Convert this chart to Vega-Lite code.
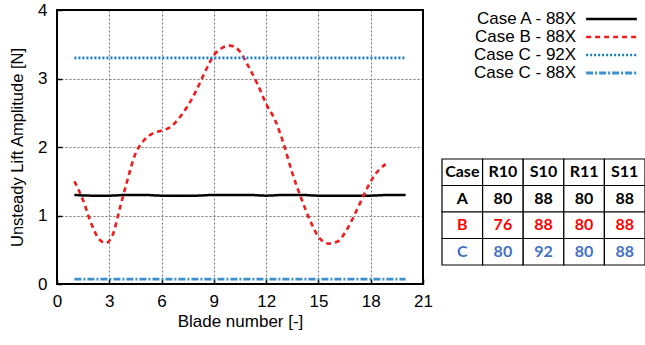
{
  "$schema": "https://vega.github.io/schema/vega-lite/v6.json",
  "padding": {"left": 9, "top": 1, "right": 0, "bottom": 5},
  "background": "white",
  "config": {
    "font": "Liberation Sans",
    "view": {"stroke": null},
    "concat": {"spacing": 8},
    "axis": {"labelFont": "Liberation Sans", "titleFont": "Liberation Sans", "labelFlush": false}
  },
  "resolve": {"scale": {"color": "independent"}},
  "datasets": {
    "series": [
      {"series": "Case A - 88X", "blade": 1, "lift": 1.3},
      {"series": "Case A - 88X", "blade": 2, "lift": 1.29},
      {"series": "Case A - 88X", "blade": 3, "lift": 1.29},
      {"series": "Case A - 88X", "blade": 4, "lift": 1.3},
      {"series": "Case A - 88X", "blade": 5, "lift": 1.3},
      {"series": "Case A - 88X", "blade": 6, "lift": 1.29},
      {"series": "Case A - 88X", "blade": 7, "lift": 1.29},
      {"series": "Case A - 88X", "blade": 8, "lift": 1.29},
      {"series": "Case A - 88X", "blade": 9, "lift": 1.3},
      {"series": "Case A - 88X", "blade": 10, "lift": 1.3},
      {"series": "Case A - 88X", "blade": 11, "lift": 1.3},
      {"series": "Case A - 88X", "blade": 12, "lift": 1.29},
      {"series": "Case A - 88X", "blade": 13, "lift": 1.3},
      {"series": "Case A - 88X", "blade": 14, "lift": 1.3},
      {"series": "Case A - 88X", "blade": 15, "lift": 1.29},
      {"series": "Case A - 88X", "blade": 16, "lift": 1.29},
      {"series": "Case A - 88X", "blade": 17, "lift": 1.29},
      {"series": "Case A - 88X", "blade": 18, "lift": 1.29},
      {"series": "Case A - 88X", "blade": 19, "lift": 1.3},
      {"series": "Case A - 88X", "blade": 20, "lift": 1.3},
      {"series": "Case B - 88X", "blade": 1, "lift": 1.5},
      {"series": "Case B - 88X", "blade": 1.5, "lift": 1.22},
      {"series": "Case B - 88X", "blade": 2, "lift": 0.86},
      {"series": "Case B - 88X", "blade": 2.4, "lift": 0.66},
      {"series": "Case B - 88X", "blade": 2.8, "lift": 0.6},
      {"series": "Case B - 88X", "blade": 3.2, "lift": 0.72},
      {"series": "Case B - 88X", "blade": 3.6, "lift": 1.1},
      {"series": "Case B - 88X", "blade": 4, "lift": 1.48},
      {"series": "Case B - 88X", "blade": 4.5, "lift": 1.9},
      {"series": "Case B - 88X", "blade": 5, "lift": 2.1},
      {"series": "Case B - 88X", "blade": 5.5, "lift": 2.2},
      {"series": "Case B - 88X", "blade": 6, "lift": 2.24},
      {"series": "Case B - 88X", "blade": 6.5, "lift": 2.29},
      {"series": "Case B - 88X", "blade": 7, "lift": 2.42},
      {"series": "Case B - 88X", "blade": 7.5, "lift": 2.6},
      {"series": "Case B - 88X", "blade": 8, "lift": 2.83},
      {"series": "Case B - 88X", "blade": 8.5, "lift": 3.1},
      {"series": "Case B - 88X", "blade": 9, "lift": 3.34},
      {"series": "Case B - 88X", "blade": 9.5, "lift": 3.45},
      {"series": "Case B - 88X", "blade": 9.9, "lift": 3.48},
      {"series": "Case B - 88X", "blade": 10.4, "lift": 3.42},
      {"series": "Case B - 88X", "blade": 11, "lift": 3.17},
      {"series": "Case B - 88X", "blade": 11.5, "lift": 2.92},
      {"series": "Case B - 88X", "blade": 12, "lift": 2.63},
      {"series": "Case B - 88X", "blade": 12.5, "lift": 2.4},
      {"series": "Case B - 88X", "blade": 13, "lift": 2.05},
      {"series": "Case B - 88X", "blade": 13.5, "lift": 1.62},
      {"series": "Case B - 88X", "blade": 14, "lift": 1.26},
      {"series": "Case B - 88X", "blade": 14.5, "lift": 0.94},
      {"series": "Case B - 88X", "blade": 15, "lift": 0.69},
      {"series": "Case B - 88X", "blade": 15.6, "lift": 0.59},
      {"series": "Case B - 88X", "blade": 16.1, "lift": 0.62},
      {"series": "Case B - 88X", "blade": 16.6, "lift": 0.78},
      {"series": "Case B - 88X", "blade": 17.2, "lift": 1.08},
      {"series": "Case B - 88X", "blade": 17.7, "lift": 1.35},
      {"series": "Case B - 88X", "blade": 18.2, "lift": 1.58},
      {"series": "Case B - 88X", "blade": 18.85, "lift": 1.75},
      {"series": "Case C - 92X", "blade": 1, "lift": 3.3},
      {"series": "Case C - 92X", "blade": 20, "lift": 3.3},
      {"series": "Case C - 88X", "blade": 1, "lift": 0.07},
      {"series": "Case C - 88X", "blade": 20, "lift": 0.07}
    ],
    "legend": [
      {"series": "Case A - 88X", "from": 7.1, "to": 9.6},
      {"series": "Case B - 88X", "from": 7.1, "to": 9.6},
      {"series": "Case C - 92X", "from": 7.1, "to": 9.6},
      {"series": "Case C - 88X", "from": 7.1, "to": 9.6}
    ],
    "table": [
      {"row": "head", "col": "Case", "text": "Case"},
      {"row": "head", "col": "R10", "text": "R10"},
      {"row": "head", "col": "S10", "text": "S10"},
      {"row": "head", "col": "R11", "text": "R11"},
      {"row": "head", "col": "S11", "text": "S11"},
      {"row": "A", "col": "Case", "text": "A"},
      {"row": "A", "col": "R10", "text": "80"},
      {"row": "A", "col": "S10", "text": "88"},
      {"row": "A", "col": "R11", "text": "80"},
      {"row": "A", "col": "S11", "text": "88"},
      {"row": "B", "col": "Case", "text": "B"},
      {"row": "B", "col": "R10", "text": "76"},
      {"row": "B", "col": "S10", "text": "88"},
      {"row": "B", "col": "R11", "text": "80"},
      {"row": "B", "col": "S11", "text": "88"},
      {"row": "C", "col": "Case", "text": "C"},
      {"row": "C", "col": "R10", "text": "80"},
      {"row": "C", "col": "S10", "text": "92"},
      {"row": "C", "col": "R11", "text": "80"},
      {"row": "C", "col": "S11", "text": "88"}
    ]
  },
  "hconcat": [
    {
      "width": 366,
      "height": 274,
      "data": {"name": "series"},
      "layer": [
        {
          "mark": {"type": "line", "interpolate": "monotone", "clip": true},
          "encoding": {
            "x": {
              "field": "blade", "type": "quantitative",
              "scale": {"domain": [0, 21], "nice": false},
              "axis": {
                "values": [0, 3, 6, 9, 12, 15, 18, 21],
                "format": "d",
                "title": "Blade number [-]",
                "titleFontSize": 17, "titleFontWeight": "normal", "titlePadding": 4, "titleColor": "black",
                "labelFontSize": 17, "labelPadding": 14, "labelColor": "black",
                "tickSize": -5, "tickColor": "black", "tickWidth": 1.5,
                "domain": false,
                "grid": true, "gridColor": "#777", "gridDash": [2, 2], "gridWidth": 1
              }
            },
            "y": {
              "field": "lift", "type": "quantitative",
              "scale": {"domain": [0, 4], "nice": false},
              "axis": {
                "values": [0, 1, 2, 3, 4],
                "format": "d",
                "title": "Unsteady Lift Amplitude [N]",
                "titleFontSize": 16.5, "titleFontWeight": "normal", "titlePadding": 12, "titleColor": "black",
                "labelFontSize": 17, "labelPadding": 15, "labelColor": "black",
                "tickSize": -5, "tickColor": "black", "tickWidth": 1.5,
                "domain": false,
                "grid": true, "gridColor": "#777", "gridDash": [2, 2], "gridWidth": 1
              }
            },
            "detail": {"field": "series"},
            "color": {
              "field": "series", "type": "nominal",
              "scale": {
                "domain": ["Case A - 88X", "Case B - 88X", "Case C - 92X", "Case C - 88X"],
                "range": ["#000000", "#ee1c1c", "#1a7dc4", "#3a8fcc"]
              },
              "legend": null
            },
            "strokeDash": {
              "field": "series", "type": "nominal",
              "scale": {
                "domain": ["Case A - 88X", "Case B - 88X", "Case C - 92X", "Case C - 88X"],
                "range": [[1, 0], [5, 4], [2, 2], [7, 2, 2, 2]]
              },
              "legend": null
            },
            "strokeWidth": {
              "field": "series", "type": "nominal",
              "scale": {
                "domain": ["Case A - 88X", "Case B - 88X", "Case C - 92X", "Case C - 88X"],
                "range": [2.5, 2.8, 2.5, 1.5]
              },
              "legend": null
            }
          }
        },
        {
          "mark": {"type": "rect", "fill": null, "stroke": "black", "strokeWidth": 2},
          "encoding": {
            "x": {"datum": 0, "type": "quantitative"},
            "x2": {"datum": 21},
            "y": {"datum": 0, "type": "quantitative"},
            "y2": {"datum": 4}
          }
        }
      ]
    },
    {
      "spacing": 76,
      "resolve": {"scale": {"color": "independent"}},
      "vconcat": [
        {
          "width": 203,
          "height": 72,
          "data": {"name": "legend"},
          "layer": [
            {
              "mark": {"type": "rule"},
              "encoding": {
                "x": {"field": "from", "type": "quantitative", "scale": {"domain": [0, 10], "nice": false}, "axis": null},
                "x2": {"field": "to"},
                "y": {"field": "series", "type": "nominal", "sort": null, "scale": {"type": "point", "padding": 0.5}, "axis": null},
                "color": {
                  "field": "series", "type": "nominal",
                  "scale": {
                    "domain": ["Case A - 88X", "Case B - 88X", "Case C - 92X", "Case C - 88X"],
                    "range": ["#000000", "#ee1c1c", "#1a7dc4", "#3a8fcc"]
                  },
                  "legend": null
                },
                "strokeDash": {
                  "field": "series", "type": "nominal",
                  "scale": {
                    "domain": ["Case A - 88X", "Case B - 88X", "Case C - 92X", "Case C - 88X"],
                    "range": [[1, 0], [5, 4], [2, 2], [7, 2, 2, 2]]
                  },
                  "legend": null
                },
                "strokeWidth": {
                  "field": "series", "type": "nominal",
                  "scale": {
                    "domain": ["Case A - 88X", "Case B - 88X", "Case C - 92X", "Case C - 88X"],
                    "range": [2.5, 2.8, 2.5, 1.5]
                  },
                  "legend": null
                }
              }
            },
            {
              "mark": {"type": "text", "align": "right", "baseline": "middle", "fontSize": 17, "dx": -10, "color": "black"},
              "encoding": {
                "x": {"field": "from", "type": "quantitative"},
                "y": {"field": "series", "type": "nominal", "sort": null},
                "text": {"field": "series"}
              }
            }
          ]
        },
        {
          "width": 203,
          "height": 106,
          "data": {"name": "table"},
          "layer": [
            {
              "mark": {"type": "rect", "fill": "white", "stroke": "black", "strokeWidth": 1.2},
              "encoding": {
                "x": {"field": "col", "type": "nominal", "sort": null, "scale": {"paddingInner": 0, "paddingOuter": 0}, "axis": null},
                "y": {"field": "row", "type": "nominal", "sort": null, "scale": {"paddingInner": 0, "paddingOuter": 0}, "axis": null}
              }
            },
            {
              "mark": {"type": "text", "font": "Lato", "fontWeight": "bold", "fontSize": 16, "baseline": "middle", "align": "center"},
              "encoding": {
                "x": {"field": "col", "type": "nominal", "sort": null, "band": 0.5},
                "y": {"field": "row", "type": "nominal", "sort": null, "band": 0.5},
                "text": {"field": "text"},
                "color": {
                  "field": "row", "type": "nominal",
                  "scale": {"domain": ["head", "A", "B", "C"], "range": ["#000000", "#000000", "#ff0000", "#4472c4"]},
                  "legend": null
                }
              }
            }
          ]
        }
      ]
    }
  ]
}
